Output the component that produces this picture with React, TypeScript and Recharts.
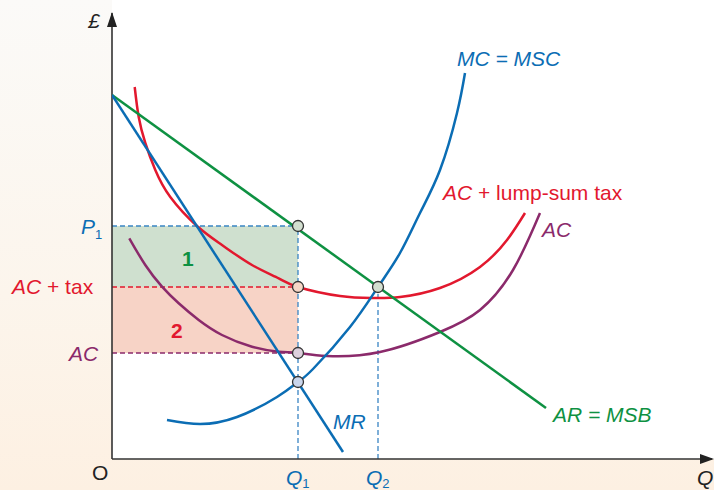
import React from 'react';
import { LineChart, Line, XAxis, YAxis, ReferenceArea, ReferenceLine, ReferenceDot } from 'recharts';

// Key levels (quantity, £)
const Q1 = 18.6;
const Q2 = 26.6;
const P1 = 23.3;
const AC_TAX = 17.2;
const AC_LEVEL = 10.6;
const MR_MC = 7.7;

// Curves as [quantity, £] pairs
const arCurve: number[][] = [[0, 36.4], [43.4, 5.1]];
const mrCurve: number[][] = [[0, 36.4], [23.1, 0.7]];
const mcCurve: number[][] = [
  [5.5, 3.9], [8.8, 3.5], [12.5, 4.2], [16.5, 6.2], [18.6, 7.7], [20.1, 9.0],
  [23.8, 13.2], [26.6, 17.2], [28.8, 20.6], [30.8, 24.6], [32.8, 28.9], [34.5, 34.6], [35.3, 38.6],
];
const acLumpCurve: number[][] = [
  [2.27, 37.2], [2.67, 34.2], [3.33, 31.6], [4.33, 28.9], [5.83, 26.2], [8.5, 23.3],
  [11.0, 21.4], [14.0, 19.4], [16.67, 18.07], [18.6, 17.2], [22.8, 16.3], [26.1, 16.1],
  [28.8, 16.2], [32.8, 17.1], [36.8, 19.2], [39.5, 21.9], [41.3, 24.6],
];
const acCurve: number[][] = [
  [1.73, 22.07], [3.33, 19.4], [5.0, 17.23], [6.67, 15.57], [8.67, 13.9], [11.0, 12.4],
  [14.0, 11.23], [16.67, 10.73], [18.6, 10.6], [21.5, 10.3], [26.8, 10.7], [32.8, 12.7],
  [36.8, 14.9], [40.1, 18.9], [42.8, 24.6],
];

const toPts = (a: number[][]) => a.map(([x, y]) => ({ x, y }));

const BLUE = '#0b6db4';
const GREEN = '#0e9142';
const RED = '#e2182e';
const PURPLE = '#8b2a6b';
const DASHBLUE = '#3a85c4';
const FONT = '"Liberation Sans", Arial, sans-serif';
const FS = 21;

export default function App() {
  const dash = '5 3';
  return (
    <div
      style={{
        position: 'fixed', left: 0, top: 0, width: 714, height: 490, overflow: 'hidden',
        background: 'linear-gradient(180deg, #fbfaf8 0%, #fcf5ec 60%, #fdf0e2 100%)',
      }}
    >
      <div style={{ position: 'absolute', left: 112, top: 0, width: 602, height: 459, background: '#ffffff' }} />
      <div style={{ position: 'absolute', left: 0, top: 0 }}>
        <LineChart width={714} height={490} margin={{ top: 13, right: 2, bottom: 31, left: 112 }}>
          <XAxis dataKey="x" type="number" domain={[0, 60]} allowDataOverflow hide />
          <YAxis type="number" domain={[0, 44.6]} allowDataOverflow hide />
          <ReferenceArea x1={0} x2={Q1} y1={AC_TAX} y2={P1} fill="#cfe0cf" fillOpacity={1} stroke="none" />
          <ReferenceArea x1={0} x2={Q1} y1={AC_LEVEL} y2={AC_TAX} fill="#f7d3c6" fillOpacity={1} stroke="none" />
          <ReferenceLine segment={[{ x: 0, y: P1 }, { x: Q1, y: P1 }]} stroke={DASHBLUE} strokeDasharray={dash} strokeWidth={1.3} />
          <ReferenceLine segment={[{ x: Q1, y: 0 }, { x: Q1, y: P1 }]} stroke={DASHBLUE} strokeDasharray={dash} strokeWidth={1.3} />
          <ReferenceLine segment={[{ x: Q2, y: 0 }, { x: Q2, y: AC_TAX }]} stroke={DASHBLUE} strokeDasharray={dash} strokeWidth={1.3} />
          <ReferenceLine segment={[{ x: 0, y: AC_TAX }, { x: Q1, y: AC_TAX }]} stroke={RED} strokeDasharray={dash} strokeWidth={1.3} />
          <ReferenceLine segment={[{ x: 0, y: AC_LEVEL }, { x: Q1, y: AC_LEVEL }]} stroke={PURPLE} strokeDasharray={dash} strokeWidth={1.3} />
          <ReferenceLine x={0} stroke="#333" strokeWidth={1.6} />
          <ReferenceLine y={0} stroke="#333" strokeWidth={1.6} />

          <Line data={toPts(acCurve)} dataKey="y" type="natural" stroke={PURPLE} strokeWidth={2.5} dot={false} isAnimationActive={false} />
          <Line data={toPts(acLumpCurve)} dataKey="y" type="natural" stroke={RED} strokeWidth={2.5} dot={false} isAnimationActive={false} />
          <Line data={toPts(arCurve)} dataKey="y" type="linear" stroke={GREEN} strokeWidth={2.5} dot={false} isAnimationActive={false} />
          <Line data={toPts(mrCurve)} dataKey="y" type="linear" stroke={BLUE} strokeWidth={2.5} dot={false} isAnimationActive={false} />
          <Line data={toPts(mcCurve)} dataKey="y" type="natural" stroke={BLUE} strokeWidth={2.5} dot={false} isAnimationActive={false} />

          <ReferenceDot x={Q1} y={P1} r={5.5} fill="#d3dfd0" stroke="#333" strokeWidth={1.3} />
          <ReferenceDot x={Q1} y={AC_TAX} r={5.5} fill="#f6d6c6" stroke="#333" strokeWidth={1.3} />
          <ReferenceDot x={Q1} y={AC_LEVEL} r={5.5} fill="#ddd0dd" stroke="#333" strokeWidth={1.3} />
          <ReferenceDot x={Q1} y={MR_MC} r={5.5} fill="#cad6ec" stroke="#333" strokeWidth={1.3} />
          <ReferenceDot x={Q2} y={AC_TAX} r={5.5} fill="#d3dfd0" stroke="#333" strokeWidth={1.3} />
        </LineChart>
      </div>
      <svg width={714} height={490} style={{ position: 'absolute', left: 0, top: 0, pointerEvents: 'none' }} fontFamily={FONT} fontSize={FS}>
        <polygon points="112,12 107,27 117,27" fill="#222" />
        <polygon points="714,459 700,454 700,464" fill="#222" />
        <text x={88} y={28} fontStyle="italic" fill="#222">£</text>
        <text x={457} y={66} fontStyle="italic" fill={BLUE}>MC = MSC</text>
        <text x={443} y={200} fill={RED}><tspan fontStyle="italic">AC</tspan> + lump-sum tax</text>
        <text x={542} y={237} fontStyle="italic" fill={PURPLE}>AC</text>
        <text x={553} y={422} fontStyle="italic" fill={GREEN}>AR = MSB</text>
        <text x={333} y={429} fontStyle="italic" fill={BLUE}>MR</text>
        <text x={81} y={234} fontStyle="italic" fill={BLUE}>P<tspan fontSize={13} dy={5} fontStyle="normal">1</tspan></text>
        <text x={12} y={294} fill={RED}><tspan fontStyle="italic">AC</tspan> + tax</text>
        <text x={69} y={361} fontStyle="italic" fill={PURPLE}>AC</text>
        <text x={182} y={266} fontWeight="bold" fill={GREEN}>1</text>
        <text x={171} y={338} fontWeight="bold" fill={RED}>2</text>
        <text x={92} y={480} fill="#222">O</text>
        <text x={286} y={485} fontStyle="italic" fill={BLUE}>Q<tspan fontSize={13} dy={3} fontStyle="normal">1</tspan></text>
        <text x={366} y={485} fontStyle="italic" fill={BLUE}>Q<tspan fontSize={13} dy={3} fontStyle="normal">2</tspan></text>
        <text x={697} y={485} fontStyle="italic" fill="#222">Q</text>
      </svg>
    </div>
  );
}
